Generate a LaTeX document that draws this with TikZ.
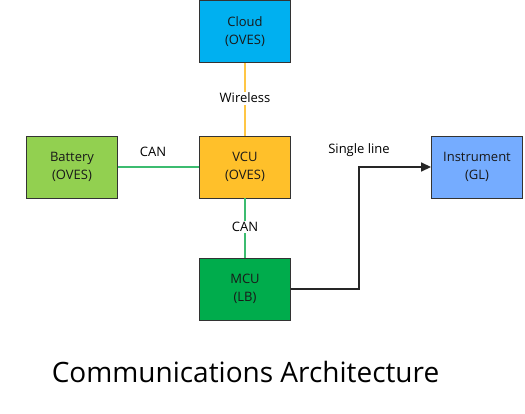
\documentclass[tikz,border=0pt]{standalone}
\usepackage{fontspec}
\setmainfont{Open Sans}
\usetikzlibrary{arrows.meta}

\definecolor{cloudblue}{HTML}{00B0F0}
\definecolor{vcugold}{HTML}{FFC02A}
\definecolor{batgreen}{HTML}{92D050}
\definecolor{mcugreen}{HTML}{00AC4C}
\definecolor{instblue}{HTML}{75ACFF}
\definecolor{canline}{HTML}{3CBC70}
\definecolor{wifiline}{HTML}{FFC645}

\begin{document}
\begin{tikzpicture}[x=1pt,y=-1pt,
  unit/.style={draw=black!80,line width=0.9pt,minimum width=91pt,minimum height=62pt,
    align=center,text=black!90,font=\fontsize{13}{18}\selectfont},
  linklabel/.style={font=\fontsize{13}{15}\selectfont,text=black,inner sep=1.5pt},
  link/.style={line width=1.6pt}]

  %layout
  \useasboundingbox (0,0) rectangle (525,413);

  %units
  \node[unit,fill=cloudblue] (cloud) at (245,31.5) {Cloud\\(OVES)};
  \node[unit,fill=vcugold]   (vcu)   at (245,167)  {VCU\\(OVES)};
  \node[unit,fill=batgreen]  (bat)   at (72,167)   {Battery\\(OVES)};
  \node[unit,fill=mcugreen]  (mcu)   at (245,289)  {MCU\\(LB)};
  \node[unit,fill=instblue]  (inst)  at (477,167)  {Instrument\\(GL)};

  %links
  \draw[link,draw=wifiline] (cloud.south) -- (vcu.north);
  \draw[link,draw=canline] (bat.east) -- (vcu.west);
  \draw[link,draw=canline] (vcu.south) -- (mcu.north);

  %single line
  \coordinate (bend) at (359,289);
  \draw[line width=1.6pt,black!85,-{Triangle[length=10pt,width=9pt]}]
    (mcu.east) -- (bend) |- (inst.west);

  %labels
  \node[linklabel,fill=white] (wifi) at (245,98) {Wireless};
  \node[linklabel,fill=white] (canb) at (245,227) {CAN};
  \node[linklabel] (cana) at (153,152) {CAN};
  \node[linklabel] (single) at (359,150) {Single line};

  %title
  \node[font=\fontsize{28}{34}\selectfont,text=black] (title) at (245.5,372)
    {Communications Architecture};

\end{tikzpicture}
\end{document}
